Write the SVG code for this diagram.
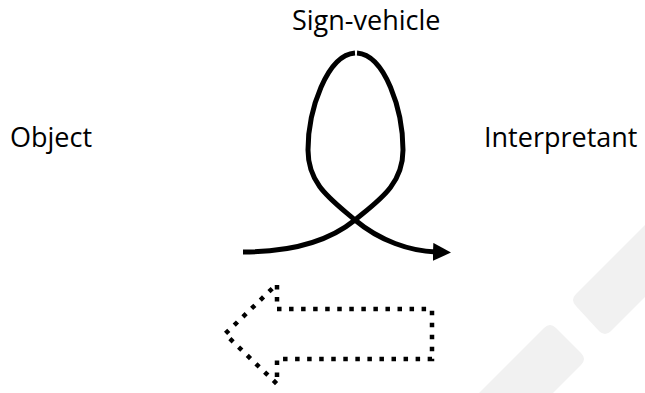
<svg xmlns="http://www.w3.org/2000/svg" width="645" height="393" viewBox="0 0 645 393">
<style>
.lbl{font-family:"Open Sans","Noto Sans","Liberation Sans",sans-serif;font-size:27px;fill:#000}
.loop{fill:none;stroke:#000;stroke-width:5;stroke-linecap:butt}
.dots{fill:none;stroke:#000;stroke-width:4.5;stroke-dasharray:4.5 7.55;stroke-linejoin:miter}
.wm{fill:#f1f1f1}
</style>
<defs>
<marker id="head" viewBox="0 0 18 18" markerWidth="18" markerHeight="18" refX="3" refY="9" orient="auto" markerUnits="userSpaceOnUse">
<path d="M0,0 L18,9 L0,18 Z" fill="#000"/>
</marker>
</defs>
<g id="watermark">
<path class="wm" d="M645,225 L576,294 Q570,300 576,306 L599,331 Q605,337 611,331 L645,297 Z"/>
<path class="wm" d="M479,393 L544,328 Q550,322 556,328 L581,353 Q587,359 581,365 L553,393 Z"/>
</g>
<g id="sign-vehicle"><text class="lbl" x="292" y="30">Sign-vehicle</text></g>
<g id="object"><text class="lbl" x="10" y="147">Object</text></g>
<g id="interpretant"><text class="lbl" x="484" y="147">Interpretant</text></g>
<g id="connectors">
<path class="loop" d="M243,252 C290,252 328,242 355,220 C378,201 403,185 403,150 C403,110 385,55 357,53"/>
<path class="loop" d="M355,53 C327,55 308,110 308,150 C308,185 332,200 355,220 C380,241 410,251 436,252" marker-end="url(#head)"/>
<path id="return-arrow" class="dots" d="M277,309 L432,309 L432,359 L277,359 L277,384 L225,334 L277,284 Z"/>
</g>
</svg>
